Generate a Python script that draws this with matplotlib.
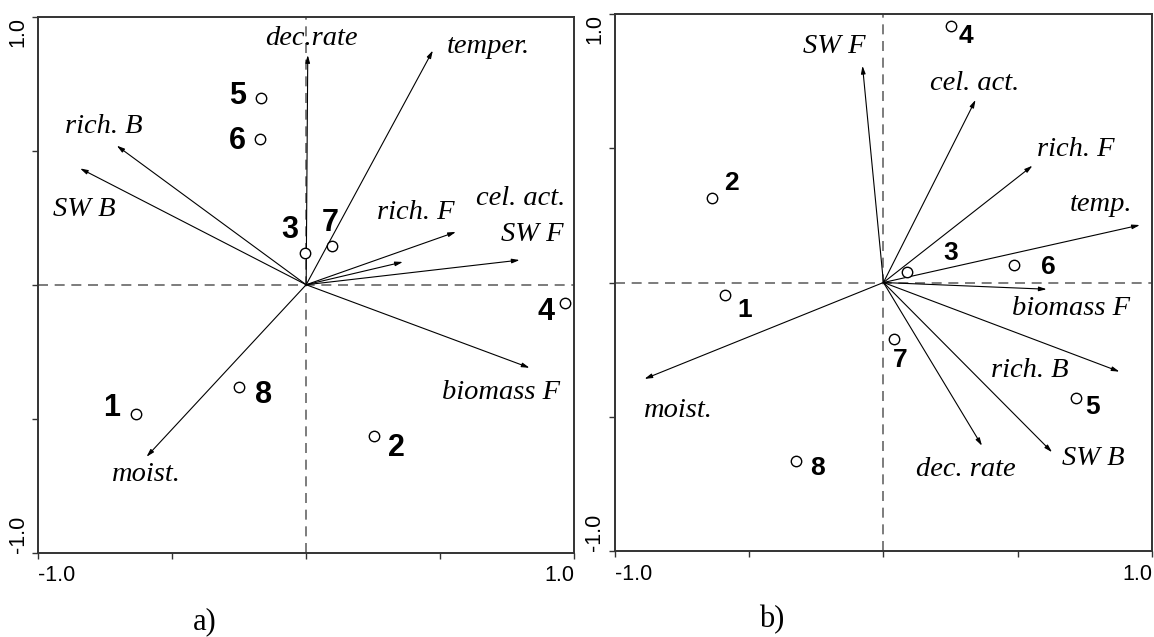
import matplotlib
matplotlib.use("Agg")
import matplotlib.pyplot as plt

# ---- panel a) ----
a_vars = ['dec.rate', 'temper.', 'rich. B', 'SW B', 'rich. F', 'cel. act.', 'SW F', 'biomass F', 'moist.']
a_arrow_x = [0.006, 0.473, -0.707, -0.844, 0.559, 0.361, 0.797, 0.834, -0.596]
a_arrow_y = [0.857, 0.874, 0.519, 0.434, 0.197, 0.085, 0.092, -0.310, -0.642]
a_varlab_x = [0.019, 0.679, -0.756, -0.828, 0.410, 0.800, 0.843, 0.726, -0.597]
a_varlab_y = [0.918, 0.889, 0.591, 0.279, 0.268, 0.321, 0.186, -0.403, -0.707]

a_sites = ['1', '2', '3', '4', '5', '6', '7', '8']
a_site_x = [-0.635, 0.252, -0.003, 0.966, -0.169, -0.172, 0.098, -0.251]
a_site_y = [-0.484, -0.565, 0.117, -0.067, 0.696, 0.543, 0.144, -0.381]
a_sitelab_x = [-0.725, 0.338, -0.062, 0.894, -0.255, -0.258, 0.091, -0.158]
a_sitelab_y = [-0.461, -0.610, 0.203, -0.100, 0.705, 0.535, 0.229, -0.411]

# ---- panel b) ----
b_vars = ['SW F', 'cel. act.', 'rich. F', 'temp.', 'biomass F', 'rich. B', 'SW B', 'dec. rate', 'moist.']
b_arrow_x = [-0.078, 0.343, 0.555, 0.955, 0.608, 0.879, 0.628, 0.367, -0.890]
b_arrow_y = [0.807, 0.680, 0.435, 0.214, -0.025, -0.332, -0.632, -0.608, -0.359]
b_varlab_x = [-0.182, 0.339, 0.717, 0.810, 0.697, 0.545, 0.781, 0.307, -0.762]
b_varlab_y = [0.878, 0.742, 0.497, 0.292, -0.096, -0.328, -0.655, -0.695, -0.475]

b_sites = ['1', '2', '3', '4', '5', '6', '7', '8']
b_site_x = [-0.591, -0.639, 0.088, 0.250, 0.718, 0.486, 0.040, -0.325]
b_site_y = [-0.047, 0.314, 0.040, 0.956, -0.429, 0.065, -0.212, -0.665]
b_sitelab_x = [-0.518, -0.566, 0.250, 0.309, 0.780, 0.615, 0.064, -0.244]
b_sitelab_y = [-0.102, 0.369, 0.109, 0.918, -0.463, 0.059, -0.289, -0.692]

ticks = [-1.0, -0.5, 0.0, 0.5, 1.0]
tick_labels = ['-1.0', '', '', '', '1.0']


def draw_panel(ax, vx, vy, vlx, vly, vnames, sx, sy, slx, sly, snames, site_fs, caption, cap_x):
    ax.set_xlim(-1, 1)
    ax.set_ylim(-1, 1)
    ax.axhline(0, color='#666666', lw=1.2, ls=(0, (6, 4)), zorder=1)
    ax.axvline(0, color='#666666', lw=1.2, ls=(0, (6, 4)), zorder=1)

    for x, y in zip(vx, vy):
        ax.annotate('', xy=(x, y), xytext=(0, 0),
                    arrowprops=dict(arrowstyle='-|>,head_length=0.45,head_width=0.13',
                                    lw=0.8, color='black', shrinkA=0, shrinkB=0))
    for x, y, s in zip(vlx, vly, vnames):
        ax.text(x, y, s, ha='center', va='center', fontsize=20.5,
                family='Liberation Serif', style='italic')

    ax.plot(sx, sy, 'o', ms=7.5, mfc='white', mec='black', mew=1.0, zorder=3)
    for x, y, s in zip(slx, sly, snames):
        ax.text(x, y, s, ha='center', va='center', fontsize=site_fs,
                family='Liberation Sans', weight='bold')

    ax.set_xticks(ticks)
    ax.set_xticklabels(tick_labels, family='Liberation Sans', fontsize=15.5)
    ax.set_yticks(ticks)
    ax.set_yticklabels(tick_labels, family='Liberation Sans', fontsize=15.5, rotation=90)
    xl = ax.get_xticklabels()
    xl[0].set_ha('left')
    xl[-1].set_ha('right')
    yl = ax.get_yticklabels()
    yl[0].set_va('bottom')
    yl[-1].set_va('top')
    ax.tick_params(direction='out', length=4, width=1.0, color='#333333')
    ax.tick_params(axis='x', pad=5)
    ax.tick_params(axis='y', pad=3)
    for sp in ax.spines.values():
        sp.set_color('#333333')
        sp.set_linewidth(1.4)

    ax.text(cap_x, -0.128, caption, transform=ax.transAxes, ha='center', va='center',
            fontsize=22, family='Liberation Serif')


fig = plt.figure(figsize=(11.54, 6.37), dpi=100)
ax1 = fig.add_axes([0.0332, 0.1323, 0.4642, 0.8414])
ax2 = fig.add_axes([0.5329, 0.1350, 0.4653, 0.8430])

draw_panel(ax1, a_arrow_x, a_arrow_y, a_varlab_x, a_varlab_y, a_vars,
           a_site_x, a_site_y, a_sitelab_x, a_sitelab_y, a_sites, 22, 'a)', 0.311)
draw_panel(ax2, b_arrow_x, b_arrow_y, b_varlab_x, b_varlab_y, b_vars,
           b_site_x, b_site_y, b_sitelab_x, b_sitelab_y, b_sites, 19, 'b)', 0.292)

fig.savefig('out.png', dpi=100)
